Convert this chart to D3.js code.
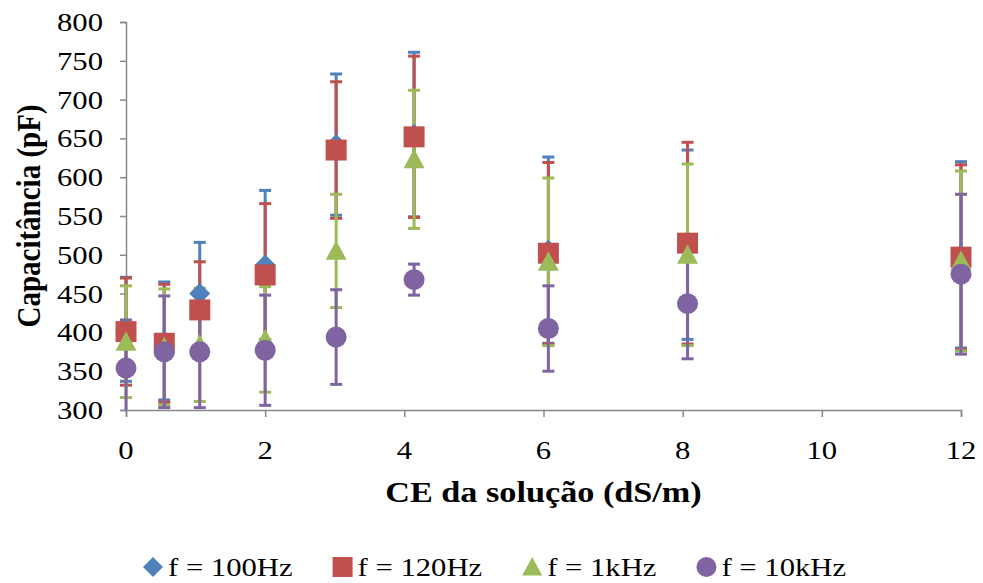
<!DOCTYPE html>
<html>
<head>
<meta charset="utf-8">
<script src="https://cdn.jsdelivr.net/npm/d3@7"></script>
<style>
  html, body { margin: 0; padding: 0; background: #fff; }
  svg { display: block; }
  text { font-family: "Liberation Serif", "Times New Roman", serif; fill: #000; }
</style>
</head>
<body>
<svg id="chart" width="983" height="583"></svg>
<script>
// Electrical conductivity of the solution (dS/m)
const ce = [0, 0.55, 1.06, 2, 3.02, 4.14, 6.07, 8.07, 12];

// Mean capacitance (pF) and error (pF) per measuring frequency
const cap100Hz = [404, 389, 450, 487, 642, 655, 506, 513, 500];
const err100Hz = [67, 76, 66, 96, 91, 106, 120, 122, 120];
const cap120Hz = [401, 386, 429, 474, 635, 652, 502, 515, 497];
const err120Hz = [69, 76, 62, 92, 88, 104, 117, 130, 119];
const cap1kHz = [388, 381, 384, 391, 505, 623, 491, 500, 492];
const err1kHz = [72, 75, 73, 68, 73, 89, 108, 117, 116];
const cap10kHz = [354, 375, 375, 377, 394, 468, 405, 437, 475];
const err10kHz = [62, 72, 72, 71, 61, 20, 55, 71, 103];

const seriesNames = ["f = 100Hz", "f = 120Hz", "f = 1kHz", "f = 10kHz"];
const xTicks = [0, 2, 4, 6, 8, 10, 12];
const yTicks = [300, 350, 400, 450, 500, 550, 600, 650, 700, 750, 800];

const series = [
  { name: seriesNames[0], values: cap100Hz, errors: err100Hz, color: "#4F81BD", shape: "diamond" },
  { name: seriesNames[1], values: cap120Hz, errors: err120Hz, color: "#C0504D", shape: "square" },
  { name: seriesNames[2], values: cap1kHz, errors: err1kHz, color: "#9BBB59", shape: "triangle" },
  { name: seriesNames[3], values: cap10kHz, errors: err10kHz, color: "#8064A2", shape: "circle" }
];

const svg = d3.select("#chart");
const plot = { left: 126, right: 961, top: 22, bottom: 410 };
const stretch = 1.18;          // horizontal text stretch
const axisColor = "#888888";

const x = d3.scaleLinear().domain([0, 12]).range([plot.left, plot.right]);
const y = d3.scaleLinear().domain([300, 800]).range([plot.bottom, plot.top]);

function label(g, txt, px, py, opts = {}) {
  return g.append("text")
    .attr("transform", `translate(${px},${py}) scale(${stretch},1)` + (opts.rotate ? ` rotate(${opts.rotate})` : ""))
    .attr("text-anchor", opts.anchor || "start")
    .style("font-size", (opts.size || 26) + "px")
    .style("font-weight", opts.bold ? "bold" : "normal")
    .text(txt);
}

// marker path generator (size in px across)
function markerPath(shape, s) {
  const h = s / 2;
  switch (shape) {
    case "diamond": return `M0,${-h}L${h},0L0,${h}L${-h},0Z`;
    case "square": return `M${-h},${-h}H${h}V${h}H${-h}Z`;
    case "triangle": return `M0,${-h}L${h},${h * 0.85}L${-h},${h * 0.85}Z`;
    default: return d3.symbol(d3.symbolCircle, Math.PI * h * h)();
  }
}

// Axes
const yAxis = d3.axisLeft(y).tickValues(yTicks).tickSize(6).tickFormat("");
const gy = svg.append("g").attr("transform", `translate(${plot.left},0)`).call(yAxis);
const xAxis = d3.axisBottom(x).tickValues(xTicks).tickSize(7).tickFormat("");
const gx = svg.append("g").attr("transform", `translate(0,${plot.bottom})`).call(xAxis);
[gx, gy].forEach(g => {
  g.select(".domain").attr("stroke", axisColor).attr("stroke-width", 1.5);
  g.selectAll(".tick line").attr("stroke", axisColor).attr("stroke-width", 1.5);
});

// Tick labels
const labels = svg.append("g");
yTicks.forEach(v => label(labels, d3.format("d")(v), 103, y(v) + 9, { anchor: "end" }));
xTicks.forEach(v => label(labels, d3.format("d")(v), x(v), 459, { anchor: "middle" }));

// Axis titles
label(labels, "CE da solução (dS/m)", (plot.left + plot.right) / 2, 502, { anchor: "middle", bold: true, size: 29 });
label(labels, "Capacitância (pF)", 40, (plot.top + plot.bottom) / 2, { anchor: "middle", bold: true, size: 29, rotate: -90 });

// Error bars, clipped to the plotting area
svg.append("clipPath").attr("id", "plot-clip")
  .append("rect").attr("x", plot.left - 20).attr("y", plot.top - 20)
  .attr("width", plot.right - plot.left + 40).attr("height", plot.bottom - plot.top + 20);

const bars = svg.append("g").attr("clip-path", "url(#plot-clip)");
const capW = 12;
series.forEach(s => {
  const g = bars.append("g").attr("stroke", s.color).attr("stroke-width", 3);
  ce.forEach((c, i) => {
    const cx = x(c);
    const hi = y(s.values[i] + s.errors[i]);
    const lo = y(s.values[i] - s.errors[i]);
    g.append("line").attr("x1", cx).attr("x2", cx).attr("y1", hi).attr("y2", lo);
    g.append("line").attr("x1", cx - capW / 2).attr("x2", cx + capW / 2).attr("y1", hi).attr("y2", hi);
    g.append("line").attr("x1", cx - capW / 2).attr("x2", cx + capW / 2).attr("y1", lo).attr("y2", lo);
  });
});

// Markers
const marks = svg.append("g");
series.forEach(s => {
  marks.append("g").selectAll("path")
    .data(ce.map((c, i) => ({ c, v: s.values[i] })))
    .join("path")
    .attr("transform", d => `translate(${x(d.c)},${y(d.v)})`)
    .attr("d", markerPath(s.shape, 21))
    .attr("fill", s.color);
});

// Legend
const legend = svg.append("g");
const legendY = 567;
let lx = 143;
series.forEach(s => {
  legend.append("path")
    .attr("transform", `translate(${lx + 10},${legendY})`)
    .attr("d", markerPath(s.shape, 20))
    .attr("fill", s.color);
  const t = label(legend, s.name, lx + 25, legendY + 9);
  const w = t.node().getBBox().width * stretch;
  lx = lx + 25 + w + 40;
});
</script>
</body>
</html>
